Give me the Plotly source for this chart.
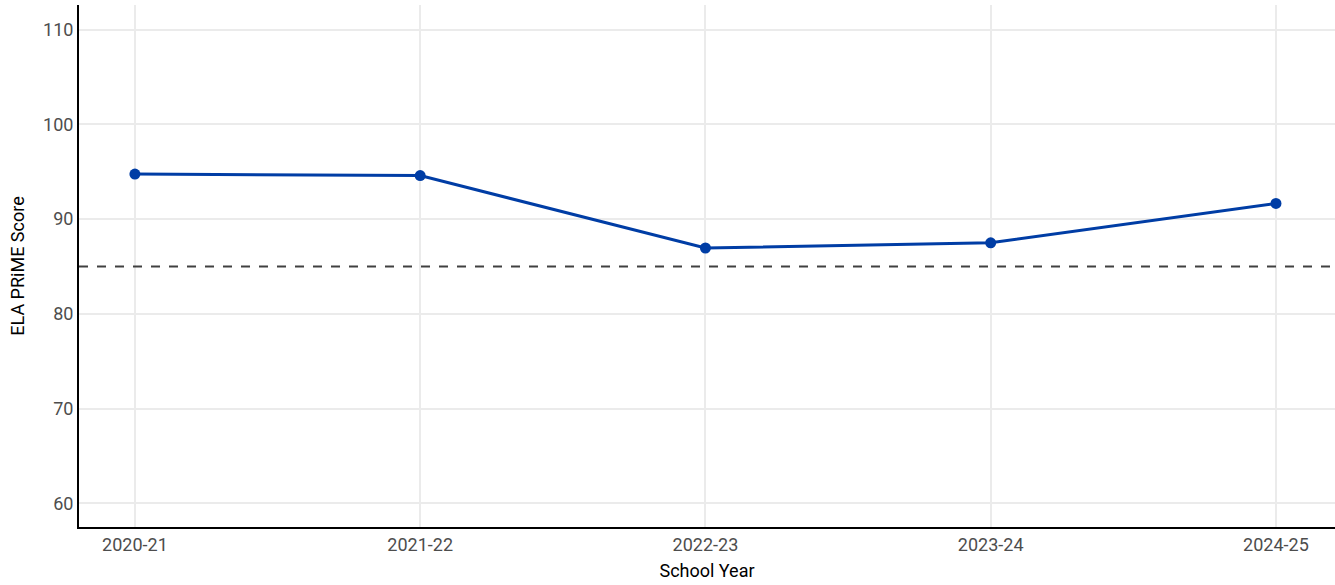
import plotly.graph_objects as go

years = ["2020-21", "2021-22", "2022-23", "2023-24", "2024-25"]
scores = [94.75, 94.6, 86.95, 87.5, 91.65]
target = 85
y_ticks = [60, 70, 80, 90, 100, 110]

FONT = "Roboto, sans-serif"

fig = go.Figure()
fig.add_trace(go.Scatter(
    x=years, y=scores, mode="lines+markers",
    line=dict(color="#003DA5", width=3),
    marker=dict(color="#003DA5", size=11),
    showlegend=False,
))
fig.add_hline(y=target, line=dict(color="#404040", width=2, dash="dash"))

fig.update_layout(
    width=1335, height=585,
    margin=dict(l=79, r=0, t=5, b=58),
    paper_bgcolor="white", plot_bgcolor="white",
    font=dict(family=FONT),
)
fig.update_xaxes(
    type="category", range=[-0.196, 4.207], automargin=False,
    title=dict(text="School Year", font=dict(size=18, color="black", family=FONT), standoff=11),
    tickfont=dict(size=18, color="#4d4d4d", family=FONT),
    showgrid=True, gridcolor="#ebebeb", gridwidth=2,
    showline=True, linecolor="black", linewidth=2,
    ticks="", zeroline=False,
)
fig.update_yaxes(
    range=[57.5, 112.6], tickvals=y_ticks, automargin=False,
    title=dict(text="ELA PRiME Score", font=dict(size=18, color="black", family=FONT), standoff=14),
    tickfont=dict(size=18, color="#4d4d4d", family=FONT),
    showgrid=True, gridcolor="#ebebeb", gridwidth=2,
    showline=True, linecolor="black", linewidth=2,
    ticks="", zeroline=False,
)
fig.write_html("out.html", config={"displayModeBar": False},
               post_script="document.body.style.margin='0';document.body.style.overflow='hidden';")
